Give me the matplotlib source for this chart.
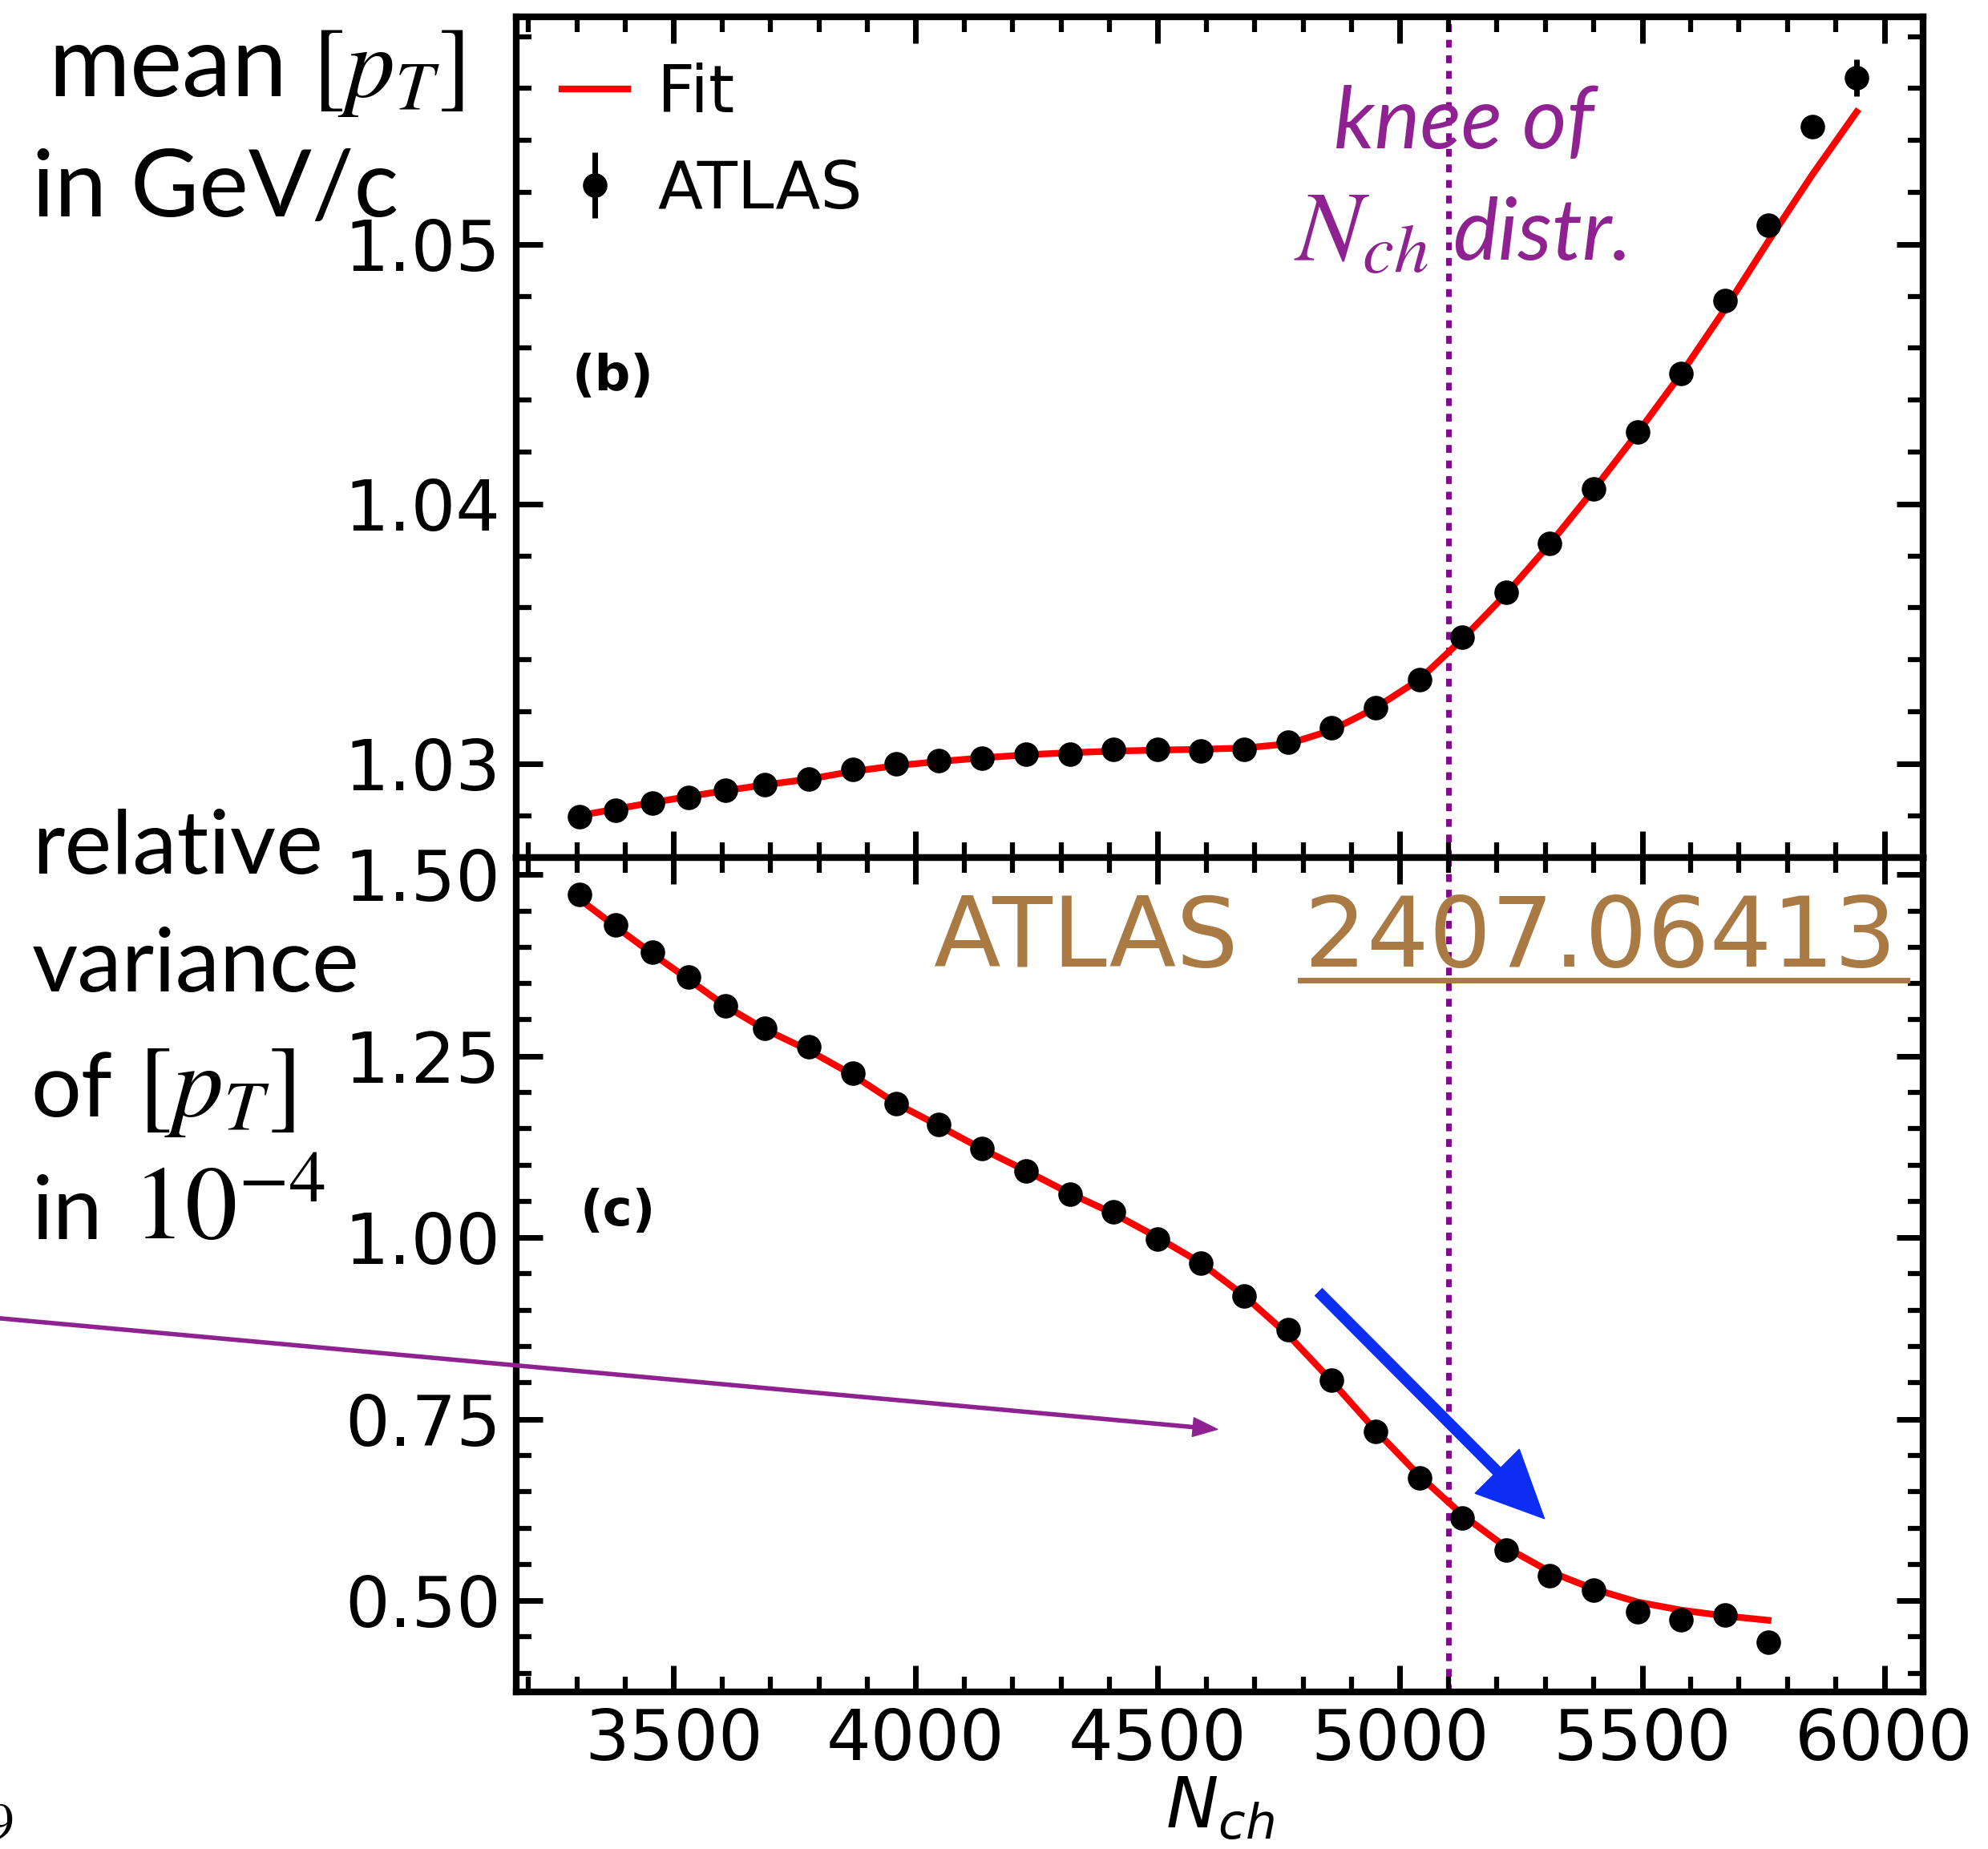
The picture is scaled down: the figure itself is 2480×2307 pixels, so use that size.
import matplotlib.pyplot as plt
from matplotlib.ticker import MultipleLocator

# --- data ---
mean_x = [3306, 3381, 3456, 3530, 3607, 3688, 3779, 3870, 3959, 4048, 4137,
          4228, 4318, 4409, 4500, 4589, 4678, 4769, 4858, 4949, 5040, 5129,
          5220, 5309, 5400, 5491, 5580, 5671, 5760, 5852, 5943]
mean_pt = [1.02795, 1.02821, 1.02849, 1.02870, 1.02896, 1.02918, 1.02939,
           1.02976, 1.03000, 1.03013, 1.03022, 1.03037, 1.03037, 1.03054,
           1.03054, 1.03048, 1.03056, 1.03082, 1.03138, 1.03214, 1.03324,
           1.03486, 1.03659, 1.03848, 1.04057, 1.04276, 1.04503, 1.04784,
           1.05074, 1.05454, 1.05642]
mean_err = [0.0001] * 29 + [0.0002, 0.0007]
mean_fit = [1.02800, 1.02825, 1.02850, 1.02873, 1.02896, 1.02918, 1.02940,
            1.02970, 1.02992, 1.03008, 1.03022, 1.03034, 1.03042, 1.03048,
            1.03052, 1.03055, 1.03060, 1.03076, 1.03128, 1.03214, 1.03324,
            1.03480, 1.03655, 1.03845, 1.04055, 1.04275, 1.04500, 1.04750,
            1.05010, 1.05270, 1.05510]

var_x = mean_x[:29]
var_pt = [1.4722, 1.4303, 1.3928, 1.3589, 1.3197, 1.2884, 1.2626, 1.2269,
          1.1850, 1.1556, 1.1226, 1.0922, 1.0601, 1.0351, 0.9977, 0.9647,
          0.9201, 0.8737, 0.8033, 0.7328, 0.6695, 0.6142, 0.5696, 0.5339,
          0.5143, 0.4848, 0.4732, 0.4804, 0.4429]
var_err = [0.002] * 28 + [0.008]
var_fit = [1.466, 1.428, 1.391, 1.356, 1.319, 1.287, 1.258, 1.224, 1.185,
           1.154, 1.122, 1.092, 1.061, 1.033, 1.000, 0.965, 0.920, 0.866,
           0.803, 0.735, 0.672, 0.618, 0.573, 0.540, 0.516, 0.498, 0.487,
           0.479, 0.473]

knee = 5100

purple = '#8e2291'
knee_col = '#800a8c'
brown = '#a97a44'

fig = plt.figure(figsize=(24.8, 23.07), dpi=100)
ax1 = fig.add_axes([0.2597, 0.5362, 0.7076, 0.4548])
ax2 = fig.add_axes([0.2597, 0.0850, 0.7076, 0.4512])


def style_axis(ax):
    for s in ax.spines.values():
        s.set_linewidth(6)
    ax.tick_params(which='both', direction='in', top=True, right=True,
                   labelsize=63, pad=14)
    ax.tick_params(which='major', length=24, width=5)
    ax.tick_params(which='minor', length=14, width=4.5)
    ax.xaxis.set_major_locator(MultipleLocator(500))
    ax.xaxis.set_minor_locator(MultipleLocator(100))
    ax.set_xlim(3175, 6080)


# top panel: mean pT
style_axis(ax1)
ax1.plot(mean_x, mean_fit, color='red', lw=6, label='Fit', zorder=2)
ax1.errorbar(mean_x, mean_pt, yerr=mean_err, fmt='o', color='black',
             ms=21, elinewidth=5, label='ATLAS', zorder=3)
ax1.axvline(knee, color=knee_col, lw=5, ls=(0, (1.4, 1.4)), zorder=1)
ax1.set_ylim(1.02638, 1.05877)
ax1.yaxis.set_major_locator(MultipleLocator(0.01))
ax1.yaxis.set_minor_locator(MultipleLocator(0.002))
ax1.tick_params(labelbottom=False)
ax1.text(3290, 1.0449, '(b)', fontsize=45, fontweight='bold', va='center')
ax1.legend(loc='upper left', frameon=False, fontsize=59, handlelength=1.0,
           handletextpad=0.45, labelspacing=0.5, borderaxespad=0.3)
ax1.text(5133, 1.0537, 'knee of', color=purple, fontsize=77,
         family='Lato', style='italic', ha='center', va='baseline')
ax1.text(5060, 1.0494, r'$N_{ch}$', color=purple, fontsize=90,
         ha='right', va='baseline', math_fontfamily='stix')
ax1.text(5108, 1.0494, 'distr.', color=purple, fontsize=77,
         family='Lato', style='italic', ha='left', va='baseline')

# bottom panel: relative variance
style_axis(ax2)
ax2.plot(var_x, var_fit, color='red', lw=6, zorder=2)
ax2.errorbar(var_x, var_pt, yerr=var_err, fmt='o', color='black',
             ms=21, elinewidth=5, zorder=3)
ax2.axvline(knee, color=knee_col, lw=5, ls=(0, (1.4, 1.4)), zorder=1)
ax2.set_ylim(0.3744, 1.5235)
ax2.yaxis.set_major_locator(MultipleLocator(0.25))
ax2.yaxis.set_minor_locator(MultipleLocator(0.05))
ax2.set_xlabel(r'$N_{ch}$', fontsize=63, labelpad=0)
ax2.text(3306, 1.035, '(c)', fontsize=45, fontweight='bold', va='center')

# reference tag with underline
ax2.text(0.4046, 0.869, 'ATLAS', transform=ax2.transAxes, color=brown,
         fontsize=88, ha='center', va='baseline')
ax2.text(0.7704, 0.869, '2407.06413', transform=ax2.transAxes, color=brown,
         fontsize=88, ha='center', va='baseline')
ax2.plot([0.557, 0.9886], [0.853, 0.853], transform=ax2.transAxes,
         color=brown, lw=5, clip_on=False)

# arrows
ax2.annotate('', xy=(5298, 0.613), xytext=(4832, 0.925),
             arrowprops=dict(color='#0c2df2', width=9, headwidth=56,
                             headlength=60, shrink=0))
ax2.annotate('', xy=(4623, 0.736), xytext=(0.0, 0.287),
             textcoords='figure fraction', annotation_clip=False,
             arrowprops=dict(color=purple, width=3, headwidth=17,
                             headlength=22, shrink=0))

# side labels
fig.text(60 / 2480, 1 - 120 / 2307, r'mean $[p_T]$', fontsize=89,
         family='Lato', va='baseline', math_fontfamily='stix')
fig.text(40 / 2480, 1 - 270 / 2307, 'in GeV/c', fontsize=84,
         family='Lato', va='baseline')
fig.text(40 / 2480, 1 - 1090 / 2307, 'relative', fontsize=80,
         family='Lato', va='baseline')
fig.text(40 / 2480, 1 - 1237 / 2307, 'variance', fontsize=80,
         family='Lato', va='baseline')
fig.text(38 / 2480, 1 - 1393 / 2307, 'of', fontsize=80,
         family='Lato', va='baseline')
fig.text(172 / 2480, 1 - 1393 / 2307, r'$[p_T]$', fontsize=92,
         va='baseline', math_fontfamily='stix')
fig.text(40 / 2480, 1 - 1546 / 2307, 'in', fontsize=80,
         family='Lato', va='baseline')
fig.text(165 / 2480, 1 - 1546 / 2307, r'$10^{-4}$', fontsize=94,
         va='baseline', math_fontfamily='stix')
fig.text(-0.006, 1 - 2296 / 2307, r'$9$', fontsize=46,
         va='baseline', math_fontfamily='stix')

fig.savefig('out.png', dpi=100)
